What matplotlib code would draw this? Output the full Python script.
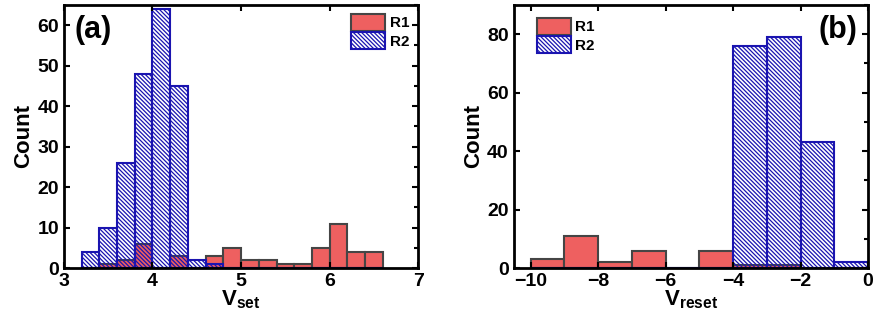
import numpy as np
import matplotlib
matplotlib.use("Agg")
import matplotlib.pyplot as plt
from matplotlib.ticker import MultipleLocator

plt.rcParams['font.family'] = ['Liberation Sans', 'DejaVu Sans']
plt.rcParams['font.weight'] = 'bold'
plt.rcParams['mathtext.fontset'] = 'custom'
plt.rcParams['mathtext.rm'] = 'Liberation Sans:bold'
plt.rcParams['mathtext.bf'] = 'Liberation Sans:bold'
plt.rcParams['hatch.linewidth'] = 0.9

# Panel (a): V_set histogram, bin width 0.2 from 3.2 to 6.6
set_edges = np.round(np.arange(3.2, 6.61, 0.2), 2)
set_r1 = [0, 1, 2, 6, 0, 3, 0, 3, 5, 2, 2, 1, 1, 5, 11, 4, 4]
set_r2 = [4, 10, 26, 48, 64, 45, 2, 1, 0, 0, 0, 0, 0, 0, 0, 0, 0]

# Panel (b): V_reset histogram, bin width 1 from -10 to 0
reset_edges = np.arange(-10, 1, 1)
reset_r1 = [3, 11, 2, 6, 0, 6, 1, 1, 0, 0]
reset_r2 = [0, 0, 0, 0, 0, 0, 76, 79, 43, 2]

red = '#EE6060'
red_edge = '#454545'
blue = '#1A14B0'

fig = plt.figure(figsize=(8.75, 3.23), dpi=100)
ax_a = fig.add_axes([0.073, 0.170, 0.405, 0.815])
ax_b = fig.add_axes([0.587, 0.170, 0.405, 0.815])


def draw(ax, edges, r1, r2):
    w = np.diff(edges)
    ax.bar(edges[:-1], r1, width=w, align='edge', color=red,
           edgecolor=red_edge, linewidth=1.5, label='R1')
    ax.bar(edges[:-1], r2, width=w, align='edge', facecolor='none',
           edgecolor=blue, hatch='\\' * 8, linewidth=1.5, label='R2')
    ax.tick_params(which='both', direction='in', top=True, right=True,
                   labelsize=14, width=1.5)
    ax.tick_params(which='major', length=4)
    ax.tick_params(which='minor', length=3, left=False, bottom=False, top=False)
    for s in ax.spines.values():
        s.set_linewidth(2)
    ax.set_ylabel('Count', fontsize=16, fontweight='bold', labelpad=2)


draw(ax_a, set_edges, set_r1, set_r2)
ax_a.set_xlim(3, 7)
ax_a.set_ylim(0, 65)
ax_a.xaxis.set_major_locator(MultipleLocator(1))
ax_a.yaxis.set_major_locator(MultipleLocator(10))
ax_a.yaxis.set_minor_locator(MultipleLocator(5))
ax_a.set_xlabel(r'$\mathbf{V_{set}}$', fontsize=16, labelpad=-1)
ax_a.text(0.03, 0.96, '(a)', transform=ax_a.transAxes, fontsize=22,
          fontweight='bold', va='top', ha='left')
ax_a.legend(loc='upper right', frameon=False, fontsize=11, handlelength=2.2,
            handleheight=1.3, borderaxespad=0.2, handletextpad=0.3,
            labelspacing=0.1)

draw(ax_b, reset_edges, reset_r1, reset_r2)
ax_b.set_xlim(-10.5, 0)
ax_b.set_ylim(0, 90)
ax_b.xaxis.set_major_locator(MultipleLocator(2))
ax_b.yaxis.set_major_locator(MultipleLocator(20))
ax_b.yaxis.set_minor_locator(MultipleLocator(10))
ax_b.set_xlabel(r'$\mathbf{V_{reset}}$', fontsize=16, labelpad=-1)
ax_b.text(0.97, 0.96, '(b)', transform=ax_b.transAxes, fontsize=22,
          fontweight='bold', va='top', ha='right')
ax_b.legend(loc='upper left', frameon=False, fontsize=11, handlelength=2.2,
            handleheight=1.3, borderaxespad=0.2, handletextpad=0.3,
            labelspacing=0.1, bbox_to_anchor=(0.04, 0.985))

fig.savefig('out.png', dpi=100)
